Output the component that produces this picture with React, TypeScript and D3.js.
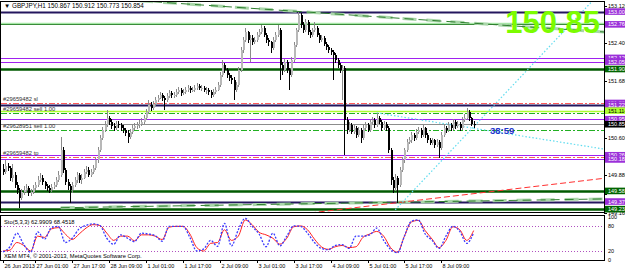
import * as d3 from "d3";

// GBPJPY H1, 26 Jun 2013 11:00 .. 8 Jul 2013
const firstOpen = 150.0;
const closes = [
  149.94, 150.06, 150.02, 149.83, 149.89, 149.7, 149.6, 149.45, 149.56, 149.6,
  149.64, 149.54, 149.56, 149.64, 149.7, 149.79, 149.83, 149.75, 149.68, 149.64,
  149.6, 149.66, 149.7, 149.79, 149.89, 150.36, 149.98, 149.75, 149.68, 149.6,
  149.7, 149.79, 149.89, 149.79, 149.83, 149.94, 149.98, 149.89, 149.94, 150.02,
  150.17, 150.36, 150.59, 150.75, 150.84, 150.97, 150.9, 150.82, 150.78, 150.86,
  150.84, 150.78, 150.75, 150.69, 150.61, 150.71, 150.78, 150.82, 150.84, 150.86,
  150.9, 150.97, 151.09, 151.22, 151.16, 151.24, 151.32, 151.36, 151.41, 151.36,
  151.32, 151.39, 151.45, 151.41, 151.41, 151.47, 151.51, 151.45, 151.47, 151.51,
  151.55, 151.51, 151.51, 151.55, 151.58, 151.55, 151.55, 151.51, 151.51, 151.47,
  151.41, 151.47, 151.51, 151.6, 151.79, 151.99, 151.89, 151.79, 151.74, 151.7,
  151.51, 151.6, 151.89, 152.27, 152.46, 152.61, 152.46, 152.5, 152.42, 152.46,
  152.56, 152.61, 152.69, 152.56, 152.46, 152.42, 152.31, 152.46, 152.56, 152.65,
  151.99, 151.89, 152.04, 151.89, 151.79, 152.08, 152.37, 152.65, 152.94, 152.75,
  152.65, 152.81, 152.61, 152.56, 152.65, 152.69, 152.56, 152.46, 152.5, 152.39,
  152.33, 152.27, 152.23, 152.18, 152.08, 151.99, 151.89, 151.93, 150.94, 150.75,
  150.84, 150.71, 150.78, 150.65, 150.75, 150.59, 150.78, 150.84, 150.75, 150.9,
  150.94, 150.84, 150.97, 150.9, 150.78, 150.86, 150.78, 150.36, 149.79, 149.64,
  149.83, 149.7, 149.98, 150.17, 150.36, 150.52, 150.55, 150.65, 150.59, 150.71,
  150.75, 150.65, 150.78, 150.65, 150.55, 150.5, 150.55, 150.46, 150.52, 150.4,
  150.65, 150.78, 150.75, 150.84, 150.78, 150.9, 150.82, 150.86, 150.78, 150.94,
  150.97, 151.09, 150.97, 150.867, 150.854,
];
const highs = [
  150.1, 150.17, 150.12, 150.06, 150.1, 149.95, 149.76, 149.64, 149.62, 149.68,
  149.72, 149.68, 149.62, 149.7, 149.76, 149.86, 149.92, 149.88, 149.78, 149.72,
  149.69, 149.72, 149.76, 149.84, 149.96, 150.61, 150.42, 150.02, 149.8, 149.72,
  149.76, 149.84, 149.95, 149.93, 149.9, 150.0, 150.06, 150.03, 150.0, 150.08,
  150.22, 150.42, 150.64, 150.8, 150.92, 151.13, 151.02, 150.95, 150.88, 150.92,
  150.92, 150.88, 150.84, 150.79, 150.74, 150.76, 150.84, 150.88, 150.9, 150.93,
  150.97, 151.03, 151.14, 151.32, 151.27, 151.3, 151.38, 151.42, 151.47, 151.45,
  151.4, 151.45, 151.51, 151.49, 151.47, 151.53, 151.57, 151.55, 151.53, 151.56,
  151.6, 151.58, 151.56, 151.6, 151.64, 151.62, 151.6, 151.58, 151.56, 151.55,
  151.5, 151.52, 151.57, 151.66, 151.85, 152.08, 152.03, 151.93, 151.84, 151.79,
  151.75, 151.66, 151.94, 152.32, 152.52, 152.69, 152.64, 152.56, 152.55, 152.52,
  152.62, 152.67, 152.75, 152.72, 152.59, 152.5, 152.45, 152.51, 152.61, 152.75,
  152.69, 152.04, 152.1, 152.08, 151.93, 152.13, 152.42, 152.7, 153.0, 152.97,
  152.8, 152.86, 152.84, 152.66, 152.7, 152.81, 152.72, 152.6, 152.55, 152.53,
  152.43, 152.37, 152.31, 152.27, 152.22, 152.12, 152.03, 151.99, 151.97, 151.0,
  150.9, 150.88, 150.84, 150.82, 150.8, 150.78, 150.83, 150.9, 150.88, 150.95,
  151.0, 150.97, 151.07, 151.01, 150.93, 150.91, 150.9, 150.82, 150.4, 149.85,
  149.9, 149.87, 150.04, 150.22, 150.41, 150.57, 150.61, 150.7, 150.69, 150.76,
  150.8, 150.78, 150.83, 150.81, 150.69, 150.59, 150.6, 150.58, 150.57, 150.55,
  150.7, 150.84, 150.82, 150.9, 150.88, 150.95, 150.93, 150.92, 150.9, 150.99,
  151.04, 151.16, 151.12, 151.0, 150.912,
];
const lows = [
  149.88, 149.9, 149.96, 149.78, 149.75, 149.64, 149.52, 149.26, 149.4, 149.5,
  149.55, 149.48, 149.49, 149.52, 149.6, 149.66, 149.75, 149.7, 149.62, 149.58,
  149.54, 149.56, 149.62, 149.66, 149.76, 149.85, 149.92, 149.7, 149.6, 149.35,
  149.55, 149.66, 149.74, 149.74, 149.72, 149.8, 149.9, 149.84, 149.85, 149.9,
  149.98, 150.12, 150.32, 150.55, 150.7, 150.8, 150.84, 150.76, 150.72, 150.74,
  150.78, 150.72, 150.68, 150.62, 150.5, 150.57, 150.67, 150.74, 150.77, 150.79,
  150.82, 150.86, 150.94, 151.05, 151.1, 151.12, 151.2, 151.28, 151.33, 151.3,
  151.13, 151.28, 151.35, 151.36, 151.35, 151.38, 151.43, 151.4, 151.41, 151.43,
  151.47, 151.45, 151.46, 151.47, 151.51, 151.5, 151.49, 151.46, 151.44, 151.41,
  151.36, 151.38, 151.44, 151.48, 151.56, 151.75, 151.84, 151.74, 151.68, 151.63,
  151.32, 151.46, 151.56, 151.85, 152.22, 152.42, 152.4, 152.04, 152.37, 152.38,
  152.42, 152.52, 152.57, 152.51, 152.4, 152.35, 152.21, 152.27, 152.42, 152.52,
  151.7, 151.8, 151.85, 151.83, 151.51, 151.75, 152.04, 152.33, 152.61, 152.7,
  152.6, 152.61, 152.56, 152.5, 152.52, 152.61, 152.51, 152.41, 152.42, 152.34,
  152.28, 152.22, 152.17, 151.7, 152.02, 151.93, 151.84, 151.32, 150.27, 150.66,
  150.7, 150.66, 150.66, 150.6, 150.61, 150.5, 150.55, 150.74, 150.7, 150.71,
  150.86, 150.79, 150.8, 150.85, 150.73, 150.74, 150.72, 150.3, 149.7, 149.54,
  149.58, 149.35, 149.66, 149.94, 150.12, 150.32, 150.47, 150.5, 150.54, 150.55,
  150.67, 150.6, 150.61, 150.6, 150.5, 150.45, 150.46, 150.41, 150.42, 150.21,
  150.36, 150.61, 150.69, 150.71, 150.73, 150.74, 150.77, 150.78, 150.73, 150.75,
  150.9, 150.93, 150.92, 150.82, 150.773,
];

// Stochastic (5,3,3), one reading every 3 bars
const stochStep = 3;
const stochMain = [
  18, 30, 62, 35, 17, 65, 48, 75, 78, 40, 50, 72, 80, 84, 80, 50, 36, 58, 50, 42,
  62, 60, 56, 43, 78, 78, 78, 52, 20, 25, 45, 31, 85, 32, 70, 97, 78, 60, 30, 62,
  32, 55, 79, 78, 62, 40, 26, 23, 33, 35, 26, 55, 55, 58, 74, 45, 24, 16, 55, 90,
  93, 60, 45, 26, 55, 78, 66, 38, 63,
];
const stochSignal = [
  20, 22, 40, 33, 20, 55, 52, 72, 75, 60, 47, 60, 74, 82, 80, 62, 45, 55, 55, 44,
  58, 58, 55, 47, 76, 78, 78, 60, 28, 20, 38, 40, 70, 45, 55, 93, 82, 64, 58, 50,
  36, 50, 77, 79, 70, 48, 30, 24, 30, 33, 28, 30, 52, 60, 66, 55, 28, 17, 55, 88,
  92, 68, 48, 28, 45, 77, 70, 45, 68,
];

const priceTicks = [153.12, 152.76, 152.4, 152.04, 151.68, 151.32, 150.96, 150.6, 150.24, 149.88, 149.52, 149.16];
const timeTickBars = [0, 14, 30, 46, 62, 78, 94, 110, 126, 142, 158, 174, 190];
const timeTickLabels = [
  "26 Jun 2013", "27 Jun 01:00", "27 Jun 17:00", "28 Jun 09:00", "1 Jul 01:00", "1 Jul 17:00",
  "2 Jul 09:00", "3 Jul 01:00", "3 Jul 17:00", "4 Jul 09:00", "5 Jul 01:00", "5 Jul 17:00", "8 Jul 09:00",
];

// horizontal objects: price + kind
const levelPrices = [153.004, 152.76, 152.12, 152.05, 151.908, 151.265, 151.225, 151.114, 151.064, 150.95, 150.854, 150.745, 150.262, 150.225, 150.182, 149.581, 149.379, 149.233];
const levelKinds = ["navy", "green", "purple", "purple", "dgreen", "red", "navy", "lime", "order", "purple", "bid", "order", "purple", "red", "purple", "dgreen", "navy", "dgreen"];

const tagPrices = [153.004, 152.76, 152.12, 152.05, 151.908, 151.26, 151.225, 151.114, 150.95, 150.854, 150.262, 150.182, 149.581, 149.379, 149.233];
const tagTexts = ["153.004", "152.760", "152.120", "152.050", "151.908", "151.260", "151.225", "151.114", "150.950", "150.854", "150.260", "150.182", "149.581", "149.379", "149.233"];
const tagKinds = ["purple", "purple", "purple", "purple", "dgreen", "purple", "purple", "lime", "purple", "bid", "purple", "purple", "dgreen", "purple", "dgreen"];

const orderPrices = [151.265, 151.064, 150.745, 150.225];
const orderTexts = ["#29659482 sl", "#29659482 sell 1.00", "#29628951 sell 1.00", "#29659482 tp"];

// trend lines: bar index / price pairs
const trends = [
  { kind: "gtrend", b0: 59, p0: 153.21, b1: 262, p1: 152.61 },
  { kind: "gtrend", b0: 25, p0: 149.26, b1: 262, p1: 149.43 },
  { kind: "rtrend", b0: 133, p0: 149.16, b1: 262, p1: 149.83 },
  { kind: "cyan", b0: 170, p0: 149.22, b1: 256, p1: 153.23 },
  { kind: "cyan", b0: 162, p0: 151.07, b1: 262, p1: 150.37 },
];

const lineStyle: Record<string, { stroke: string; w: number; dash?: string }> = {
  navy: { stroke: "#24165e", w: 2 },
  green: { stroke: "#3a8c3a", w: 1 },
  purple: { stroke: "#a020f0", w: 1.2 },
  dgreen: { stroke: "#005a00", w: 2.5 },
  red: { stroke: "#ff5a5a", w: 1, dash: "6,2,2,2" },
  lime: { stroke: "#adff2f", w: 1.5 },
  order: { stroke: "#22b022", w: 1, dash: "6,2,2,2" },
  bid: { stroke: "#8c8c8c", w: 1 },
};
const tagStyle: Record<string, { bg: string; fg: string }> = {
  purple: { bg: "#9b30d9", fg: "#ffffff" },
  dgreen: { bg: "#006400", fg: "#ffffff" },
  lime: { bg: "#adff2f", fg: "#000000" },
  bid: { bg: "#000000", fg: "#ffffff" },
};

const W = 625;
const H = 271;
const L = 1;
const R = 604;
const mainTop = 1;
const mainBottom = 212;
const stTop = 215;
const stBottom = 260;
const font = "'Liberation Sans', Arial, sans-serif";

export default function App() {
  const x = d3.scaleLinear().domain([0, 204]).range([3, 3 + 204 * 2.307]);
  const y = d3.scaleLinear().domain([149.16, 153.12]).range([213, 5.5]);
  const s = d3.scaleLinear().domain([0, 100]).range([259.5, 217]);

  const stochLine = d3
    .line<number>()
    .x((_, k) => x(k * stochStep))
    .y((v) => s(v))
    .curve(d3.curveMonotoneX);

  // axis prices that sit under a coloured tag are hidden, as in the terminal
  const visibleTicks = priceTicks.filter((p) => tagPrices.every((t) => Math.abs(y(t) - y(p)) > 3.5));

  return (
    <svg width={W} height={H} style={{ position: "fixed", left: 0, top: 0, background: "#fff" }} fontFamily={font}>
      <defs>
        <clipPath id="mainClip">
          <rect x={L} y={mainTop} width={R - L} height={mainBottom - mainTop} />
        </clipPath>
        <clipPath id="stClip">
          <rect x={L} y={stTop} width={R - L} height={stBottom - stTop} />
        </clipPath>
      </defs>
      <rect width={W} height={H} fill="#fff" />

      <g clipPath="url(#mainClip)">
        {/* horizontal levels */}
        {levelPrices.map((p, i) => {
          const st = lineStyle[levelKinds[i]];
          const yy = Math.round(y(p)) + 0.5;
          return (
            <g key={"lv" + i}>
              {levelKinds[i] === "green" && (
                <line x1={L} x2={R} y1={yy - 1} y2={yy - 1} stroke="#a6e6a6" strokeWidth={1.5} />
              )}
              <line x1={L} x2={R} y1={yy} y2={yy} stroke={st.stroke} strokeWidth={st.w} strokeDasharray={st.dash} />
            </g>
          );
        })}

        {/* trend lines */}
        {trends.map((t, i) => {
          const a = { x1: x(t.b0), y1: y(t.p0), x2: x(t.b1), y2: y(t.p1) };
          if (t.kind === "gtrend")
            return (
              <g key={"tr" + i}>
                <line {...a} stroke="#a9d6a9" strokeWidth={3} strokeDasharray="14,10" />
                <line {...a} stroke="#2f7f2f" strokeWidth={1} strokeDasharray="9,5" />
              </g>
            );
          if (t.kind === "rtrend")
            return <line key={"tr" + i} {...a} stroke="#ff3030" strokeWidth={1} strokeDasharray="6,3" />;
          return <line key={"tr" + i} {...a} stroke="#5fdcef" strokeWidth={1.2} strokeDasharray="1.5,2" />;
        })}

        {/* candles */}
        {closes.map((c, i) => {
          const o = i === 0 ? firstOpen : closes[i - 1];
          const up = c >= o;
          const cx = Math.round(x(i));
          const top = y(Math.max(o, c));
          const bh = Math.max(1, Math.abs(y(o) - y(c)));
          return (
            <g key={"c" + i} shapeRendering="crispEdges">
              <line x1={cx + 0.5} x2={cx + 0.5} y1={y(highs[i])} y2={y(lows[i])} stroke={up ? "#8a8a8a" : "#000"} strokeWidth={1} />
              <rect x={cx - 0.5} y={top} width={2} height={bh} fill={up ? "#b8b8b8" : "#000"} />
            </g>
          );
        })}

        {/* order labels */}
        {orderPrices.map((p, i) => (
          <text key={"ot" + i} x={3} y={y(p) - 2} fontSize={5.8} fill="#333">
            {orderTexts[i]}
          </text>
        ))}

        <text x={600} y={33} textAnchor="end" fontSize={31} fontWeight="bold" fill="#7cfc00">
          150.85
        </text>
        <text x={490} y={134} fontSize={9.5} fontWeight="bold" fill="#2233cc">
          38:59
        </text>
      </g>

      <text x={4} y={8} fontSize={6.3} fill="#000">
        {"\u25BC GBPJPY,H1  150.867 150.912 150.773 150.854"}
      </text>

      {/* stochastic panel */}
      <g clipPath="url(#stClip)">
        {[80, 20].map((v) => (
          <line key={"sl" + v} x1={L} x2={R} y1={Math.round(s(v)) + 0.5} y2={Math.round(s(v)) + 0.5} stroke="#b050c0" strokeDasharray="1,2" />
        ))}
        <path d={stochLine(stochSignal) ?? ""} fill="none" stroke="#ff2020" strokeWidth={1} />
        <path d={stochLine(stochMain) ?? ""} fill="none" stroke="#3a3aff" strokeWidth={1.3} strokeDasharray="2,1.5" />
      </g>
      <text x={4} y={224} fontSize={5.8} fill="#000">
        Sto(5,3,3) 62.9909 68.4518
      </text>
      <text x={4} y={258} fontSize={5.8} fill="#000">
        XEM MT4, © 2001-2013, MetaQuotes Software Corp.
      </text>

      {/* panel frames */}
      <g fill="none" stroke="#000" shapeRendering="crispEdges">
        <rect x={L - 0.5} y={mainTop + 0.5} width={R - L + 0.5} height={mainBottom - mainTop} />
        <rect x={L - 0.5} y={stTop + 0.5} width={R - L + 0.5} height={stBottom - stTop} />
      </g>

      {/* price axis */}
      {priceTicks.map((p) => (
        <line key={"pk" + p} x1={R} x2={R + 3} y1={Math.round(y(p)) + 0.5} y2={Math.round(y(p)) + 0.5} stroke="#000" />
      ))}
      {visibleTicks.map((p) => (
        <text key={"pt" + p} x={R + 4} y={y(p) + 2} fontSize={5.5} fill="#000">
          {p.toFixed(3)}
        </text>
      ))}
      {tagPrices.map((p, i) => {
        const st = tagStyle[tagKinds[i]];
        const yy = y(p);
        return (
          <g key={"tg" + i}>
            <rect x={R + 1} y={yy - 3.3} width={W - R} height={6.6} fill={st.bg} />
            <text x={R + 4} y={yy + 2} fontSize={5.5} fill={st.fg}>
              {tagTexts[i]}
            </text>
          </g>
        );
      })}

      {/* stochastic axis */}
      {[100, 80, 20, 0].map((v) => (
        <text key={"sv" + v} x={R + 4} y={s(v) + 2} fontSize={5.5} fill="#000">
          {v}
        </text>
      ))}

      {/* time axis */}
      {timeTickBars.map((b, i) => {
        const xx = Math.round(x(b)) + 0.5;
        return (
          <g key={"tt" + i}>
            <line x1={xx} x2={xx} y1={stBottom} y2={stBottom + 3} stroke="#000" />
            <text x={xx + 1} y={268} fontSize={5.5} fill="#000">
              {timeTickLabels[i]}
            </text>
          </g>
        );
      })}
    </svg>
  );
}
